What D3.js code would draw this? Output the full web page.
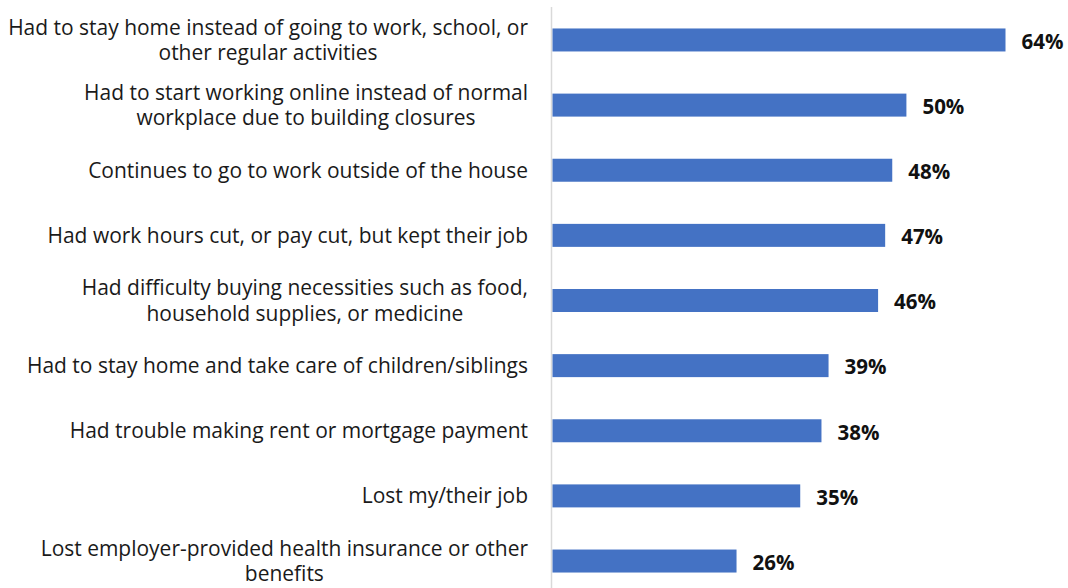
<!DOCTYPE html>
<html>
<head>
<meta charset="utf-8">
<script src="https://cdn.jsdelivr.net/npm/d3@7"></script>
<style>
  html, body { margin: 0; padding: 0; background: #fff; }
  svg { display: block; }
</style>
</head>
<body>
<svg id="chart" width="1068" height="588"></svg>
<script>
// Share of respondents reporting each pandemic impact
const categories = [
  "Had to stay home instead of going to work, school, or\nother regular activities",
  "Had to start working online instead of normal\nworkplace due to building closures",
  "Continues to go to work outside of the house",
  "Had work hours cut, or pay cut, but kept their job",
  "Had difficulty buying necessities such as food,\nhousehold supplies, or medicine",
  "Had to stay home and take care of children/siblings",
  "Had trouble making rent or mortgage payment",
  "Lost my/their job",
  "Lost employer-provided health insurance or other\nbenefits"
];
const values = [64, 50, 48, 47, 46, 39, 38, 35, 26];

const svg = d3.select("#chart");
const W = 1068, H = 588;
const axisX = 552.5;
const labelFont = "'Open Sans', 'Noto Sans', sans-serif";
const capRatio = 0.714; // cap height of Open Sans as a share of font size

const x = d3.scaleLinear().domain([0, 64]).range([axisX, 1005.5]);
const y = d3.scaleBand()
  .domain(categories)
  .range([7.4, 593.6])
  .paddingInner(0.647)
  .paddingOuter(0.3235);

// Vertical category axis line
svg.append("line")
  .attr("x1", axisX - 1).attr("x2", axisX - 1)
  .attr("y1", 7).attr("y2", H)
  .attr("stroke", "#d9d9d9")
  .attr("stroke-width", 1.5);

// Bars
svg.append("g").selectAll("rect")
  .data(values)
  .join("rect")
  .attr("x", x(0))
  .attr("y", (d, i) => y(categories[i]))
  .attr("width", d => x(d) - x(0))
  .attr("height", y.bandwidth())
  .attr("fill", "#4472c4");

// Value labels
const valSize = 20.5;
svg.append("g").selectAll("text")
  .data(values)
  .join("text")
  .attr("x", d => x(d) + 16)
  .attr("y", (d, i) => y(categories[i]) + y.bandwidth() / 2 + 1.5 + valSize * capRatio / 2)
  .attr("font-family", labelFont)
  .attr("font-weight", "bold")
  .attr("font-size", valSize)
  .attr("fill", "#111")
  .text(d => d + "%");

// Category labels, wrapped lines centred on each bar
const lineH = 25.5;
const catG = svg.append("g")
  .attr("font-family", labelFont)
  .attr("font-size", 18)
  .attr("fill", "#1a1a1a")
  .attr("text-anchor", "middle");

categories.forEach(c => {
  const lines = c.split("\n");
  const t = catG.append("text").attr("class", "cat");
  lines.forEach((ln, j) => {
    t.append("tspan").attr("data-off", j - (lines.length - 1) / 2).text(ln);
  });
});

// Size the labels so the widest line spans the label column
const columnW = 520;
let maxW = 0;
catG.selectAll("tspan").each(function () {
  maxW = Math.max(maxW, this.getComputedTextLength());
});
const catSize = 18 * columnW / maxW;
catG.attr("font-size", catSize);

// Each label block is right-aligned; wrapped lines are centred within it
const right = 528;
catG.selectAll("text.cat").each(function (_, i) {
  const cy = y(categories[i]) + y.bandwidth() / 2;
  const tsp = d3.select(this).selectAll("tspan");
  let w = 0;
  tsp.each(function () { w = Math.max(w, this.getComputedTextLength()); });
  tsp.attr("x", right - w / 2)
     .attr("y", function () {
       return cy + catSize * capRatio / 2 + (+this.getAttribute("data-off")) * lineH;
     });
});
</script>
</body>
</html>
